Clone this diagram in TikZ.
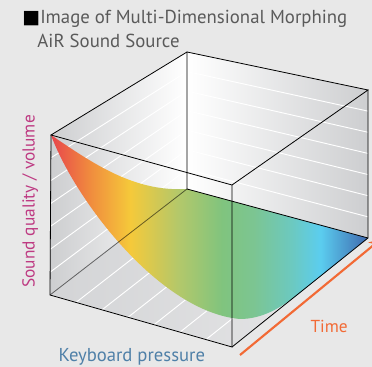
\documentclass[tikz,border=0pt]{standalone}
\usepackage{fontspec}
\setmainfont{PT Sans}
\newfontfamily\sqfont{DejaVu Sans}
\usetikzlibrary{calc,arrows.meta}

\definecolor{bgGray}{HTML}{E8E8E8}
\definecolor{faceGray}{HTML}{CDCED0}
\definecolor{floorGray}{HTML}{D3D4D6}
\definecolor{floorLight}{HTML}{E8E8E9}
\definecolor{titleGray}{HTML}{5A5A5A}
\definecolor{qualityPink}{HTML}{BE3A82}
\definecolor{pressureBlue}{HTML}{4F80A8}
\definecolor{timeOrange}{HTML}{F26A35}
\definecolor{sRed}{HTML}{E8464C}
\definecolor{sOrange}{HTML}{F08A3E}
\definecolor{sYellow}{HTML}{F5C93A}
\definecolor{sYellowGreen}{HTML}{B4C86A}
\definecolor{sGreen}{HTML}{80C47E}
\definecolor{sGreenTwo}{HTML}{7CC592}
\definecolor{sTeal}{HTML}{6CC9C0}
\definecolor{sCyan}{HTML}{5BCDEF}
\definecolor{sBlue}{HTML}{3E68AE}

\pgfdeclarehorizontalshading{airsurf}{100bp}{color(0bp)=(sRed); color(25bp)=(sRed);
  color(31bp)=(sOrange); color(37.5bp)=(sYellow); color(45bp)=(sYellowGreen);
  color(52bp)=(sGreen); color(57bp)=(sGreenTwo); color(63bp)=(sTeal);
  color(67.5bp)=(sCyan); color(75bp)=(sBlue); color(100bp)=(sBlue)}

\tikzset{every picture/.style={line width=0.75pt}}
\tikzset{
  cubeedge/.style={black, line width=0.6pt},
  hatch/.style={white, line width=0.7pt},
  titletext/.style={inner sep=0pt, text=titleGray, font=\fontsize{14.1}{17}\selectfont},
  axistext/.style={inner sep=0pt, font=\fontsize{13}{15}\selectfont},
  timearrow/.style={timeOrange, line width=1.6pt, -{Stealth[length=9pt,width=8pt]}},
}

\begin{document}
\begin{tikzpicture}[x=0.75pt, y=-0.75pt]
  \useasboundingbox (0,0) rectangle (372,367);
  \fill[bgGray] (0,0) rectangle (372,367);

  % corners of the box
  \coordinate (A) at (51,135);
  \coordinate (B) at (232,185);
  \coordinate (C) at (368,90);
  \coordinate (D) at (187,52);
  \coordinate (E) at (50,295);
  \coordinate (F) at (232,347);
  \coordinate (G) at (368,238);
  \coordinate (H) at (187,189);

  % inner walls
  \shade[left color=faceGray, right color=white] (A) -- (D) -- (H) -- (E) -- cycle;
  \shade[left color=white, right color=faceGray] (D) -- (C) -- (G) -- (H) -- cycle;
  \shade[left color=floorGray, right color=floorLight] (E) -- (H) -- (G) -- (F) -- cycle;
  \foreach \k in {1,...,6}
    {
      \draw[hatch] ($(A)!{\k/7}!(E)$) -- ($(D)!{\k/7}!(H)$);
      \draw[hatch] ($(D)!{\k/7}!(H)$) -- ($(C)!{\k/7}!(G)$);
      \draw[hatch] ($(E)!{\k/7}!(F)$) -- ($(H)!{\k/7}!(G)$);
    }

  % sound surface
  \shade[shading=airsurf] (A) .. controls (95,165) and (135,192) .. (H) -- (G)
    -- (296,296) .. controls (280,308) and (262,319) .. (240,319)
    .. controls (160,312) and (75,200) .. (A) -- cycle;

  % edges
  \draw[cubeedge] (D) -- (H) -- (G);
  \draw[cubeedge, draw opacity=0.55] (H) -- (E);
  \draw[cubeedge] (A) -- (D) -- (C) -- (B) -- cycle;
  \draw[cubeedge] (A) -- (E) -- (F) -- (B);
  \draw[cubeedge] (C) -- (G) -- (F);

  % time axis
  \coordinate (t0) at (240,355);
  \coordinate (t1) at (381,239);
  \draw[timearrow] (t0) -- (t1);

  % texts
  \node[titletext, anchor=base west] (title1) at (22,24) {{\sqfont\color{black}■}Image of Multi-Dimensional Morphing};
  \node[titletext, anchor=base west] (title2) at (37,47.3) {AiR Sound Source};
  \node[axistext, text=pressureBlue, anchor=base west, font=\fontsize{14}{16}\selectfont] (pressure) at (58,362) {Keyboard pressure};
  \node[axistext, text=timeOrange, anchor=base west] (time) at (310,333) {Time};
  \node[axistext, text=qualityPink, anchor=base west, rotate=90] (quality) at (34.5,288) {Sound quality / volume};
\end{tikzpicture}
\end{document}
